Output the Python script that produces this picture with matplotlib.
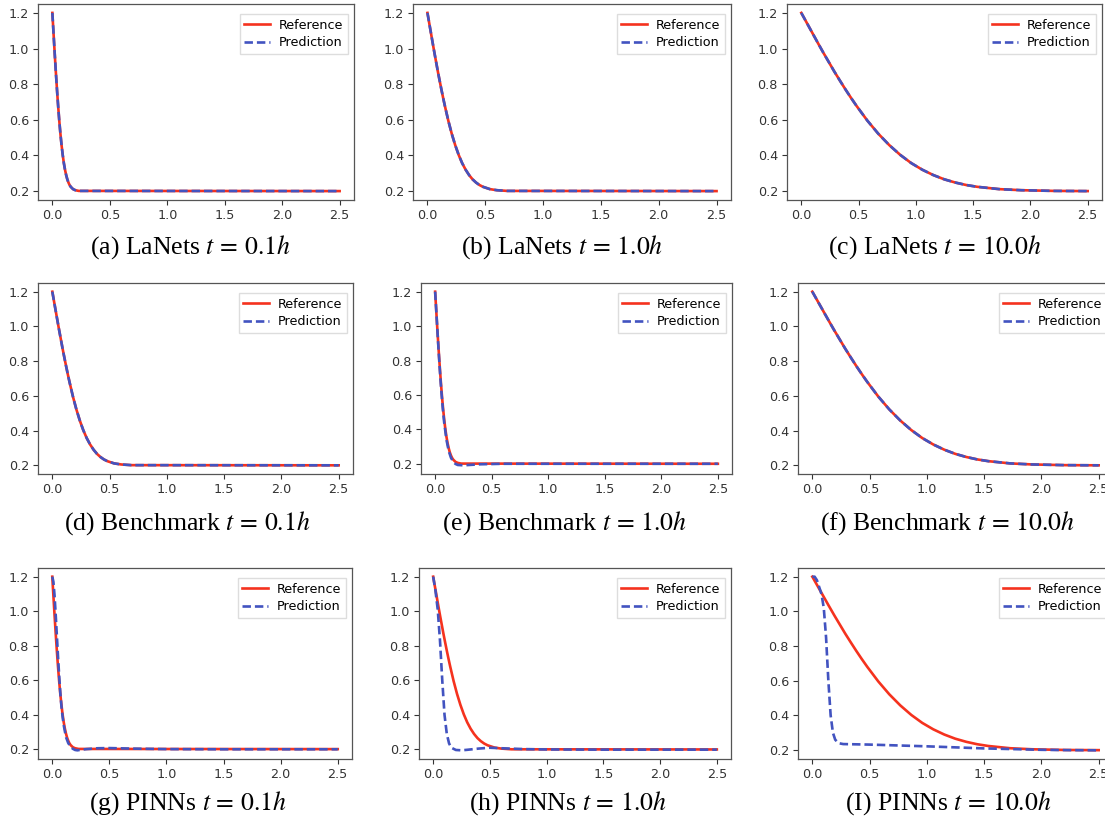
import matplotlib
matplotlib.use("Agg")
import matplotlib.pyplot as plt

plt.rcParams['mathtext.fontset'] = 'stix'

# ---------------- data ----------------
# shared decay shape 1.2 -> 0.2
y_prof = [1.2, 1.144, 1.088, 1.032, 0.977, 0.924, 0.871, 0.821, 0.772, 0.725, 0.680, 0.596, 0.522,
          0.458, 0.403, 0.357, 0.320, 0.290, 0.266, 0.248, 0.234, 0.224, 0.211, 0.205, 0.201, 0.200]
# fast profile (t = 0.1h LaNets, 1.0h Benchmark, 0.1h PINNs)
x_fast = [0, 0.005, 0.01, 0.015, 0.02, 0.025, 0.03, 0.035, 0.04, 0.045, 0.05, 0.06, 0.07, 0.08,
          0.09, 0.10, 0.11, 0.12, 0.13, 0.14, 0.15, 0.16, 0.18, 0.20, 0.23, 2.5]
# medium profile (t = 1.0h LaNets, 0.1h Benchmark, 1.0h PINNs)
x_mid = [0, 0.015, 0.03, 0.045, 0.06, 0.075, 0.09, 0.105, 0.12, 0.135, 0.15, 0.18, 0.21, 0.24,
         0.27, 0.30, 0.33, 0.36, 0.39, 0.42, 0.45, 0.48, 0.54, 0.60, 0.69, 2.5]
# slow profile (t = 10.0h)
x_slow = [0, 0.048, 0.096, 0.144, 0.192, 0.24, 0.288, 0.336, 0.384, 0.432, 0.48, 0.576, 0.672, 0.768,
          0.864, 0.96, 1.056, 1.152, 1.248, 1.344, 1.44, 1.536, 1.728, 1.92, 2.208, 2.5]

# Benchmark t=1.0h prediction (slight undershoot)
x_e_pred = [0, 0.01, 0.02, 0.03, 0.04, 0.05, 0.06, 0.07, 0.08, 0.10, 0.12, 0.14, 0.16, 0.18, 0.20, 0.25, 0.30, 0.40, 0.60, 2.5]
y_e_pred = [1.2, 1.09, 0.975, 0.865, 0.76, 0.665, 0.58, 0.505, 0.44, 0.34, 0.275, 0.235, 0.212, 0.199, 0.193, 0.191, 0.193, 0.197, 0.2, 0.2]

# PINNs t=0.1h prediction
x_g_pred = [0, 0.01, 0.02, 0.03, 0.04, 0.05, 0.06, 0.07, 0.08, 0.09, 0.10, 0.12, 0.14, 0.16, 0.18, 0.20, 0.22, 0.25, 0.30, 0.40, 0.50, 0.70, 1.0, 1.5, 2.5]
y_g_pred = [1.2, 1.17, 1.09, 0.98, 0.86, 0.74, 0.63, 0.53, 0.45, 0.39, 0.34, 0.27, 0.235, 0.215, 0.202, 0.195, 0.193, 0.196, 0.2, 0.205, 0.206, 0.203, 0.2, 0.199, 0.199]

# PINNs t=1.0h prediction
x_h_pred = [0, 0.02, 0.04, 0.06, 0.08, 0.10, 0.12, 0.14, 0.16, 0.20, 0.25, 0.30, 0.40, 0.50, 0.60, 0.80, 1.0, 1.5, 2.0, 2.5]
y_h_pred = [1.2, 1.12, 1.01, 0.83, 0.60, 0.40, 0.29, 0.235, 0.21, 0.197, 0.195, 0.198, 0.205, 0.21, 0.207, 0.202, 0.2, 0.199, 0.199, 0.199]

# PINNs t=10.0h prediction
x_i_pred = [0, 0.02, 0.04, 0.06, 0.08, 0.10, 0.12, 0.14, 0.16, 0.18, 0.20, 0.23, 0.27, 0.35, 0.5, 0.75, 1.0, 1.25, 1.5, 1.75, 2.0, 2.25, 2.5]
y_i_pred = [1.2, 1.2, 1.18, 1.14, 1.1, 1.02, 0.85, 0.6, 0.4, 0.3, 0.26, 0.24, 0.235, 0.234, 0.232, 0.227, 0.222, 0.216, 0.21, 0.206, 0.202, 0.2, 0.199]

captions = [r"(a) LaNets $t\,=\,0.1h$", r"(b) LaNets $t\,=\,1.0h$", r"(c) LaNets $t\,=\,10.0h$",
            r"(d) Benchmark $t\,=\,0.1h$", r"(e) Benchmark $t\,=\,1.0h$", r"(f) Benchmark $t\,=\,10.0h$",
            r"(g) PINNs $t\,=\,0.1h$", r"(h) PINNs $t\,=\,1.0h$", r"(I) PINNs $t\,=\,10.0h$"]

panels = [
    (x_fast, y_prof, x_fast, y_prof),
    (x_mid, y_prof, x_mid, y_prof),
    (x_slow, y_prof, x_slow, y_prof),
    (x_mid, y_prof, x_mid, y_prof),
    (x_fast, y_prof, x_e_pred, y_e_pred),
    (x_slow, y_prof, x_slow, y_prof),
    (x_fast, y_prof, x_g_pred, y_g_pred),
    (x_mid, y_prof, x_h_pred, y_h_pred),
    (x_slow, y_prof, x_i_pred, y_i_pred),
]

xticks = [0.0, 0.5, 1.0, 1.5, 2.0, 2.5]
yticks = [0.2, 0.4, 0.6, 0.8, 1.0, 1.2]

# ---------------- layout (pixels) ----------------
W, H = 1105, 825
boxes = [  # left, right, top, bottom
    (38, 354, 4, 200), (413, 731, 4, 200), (787, 1102, 4, 200),
    (38, 353, 283, 474), (421, 732, 283, 474), (798, 1113, 283, 474),
    (38, 352, 568, 759), (419, 731, 568, 759), (798, 1113, 568, 759),
]
cap_pos = [(190, 247), (562, 247), (935, 247),
           (187, 523), (565, 523), (948, 523),
           (188, 803), (568, 803), (948, 803)]

fig = plt.figure(figsize=(W / 100, H / 100), dpi=100)

red = '#f5321e'
blue = '#4253c0'
tick_fs = 9.2

for i, (xr, yr, xp, yp) in enumerate(panels):
    l, r, t, b = boxes[i]
    ax = fig.add_axes([l / W, 1 - b / H, (r - l) / W, (b - t) / H])
    ax.plot(xr, yr, color=red, lw=1.9, label='Reference')
    ax.plot(xp, yp, color=blue, lw=1.9, ls='--', dashes=(3.2, 1.5), label='Prediction')
    ax.set_xticks(xticks)
    ax.set_yticks(yticks)
    ax.set_xticklabels([f"{v:.1f}" for v in xticks])
    ax.set_yticklabels([f"{v:.1f}" for v in yticks])
    ax.tick_params(labelsize=tick_fs, colors='#333333', length=3.5, width=0.8, pad=3)
    for s in ax.spines.values():
        s.set_color('#555555')
        s.set_linewidth(0.9)
    ax.legend(loc='upper right', bbox_to_anchor=(1.0, 1.0 - 4.0 / (b - t)),
              fontsize=tick_fs, frameon=True, fancybox=False,
              edgecolor='#dddddd', framealpha=1.0, handlelength=2.0,
              borderpad=0.35, labelspacing=0.35, handletextpad=0.7)
    cx, cy = cap_pos[i]
    fig.text(cx / W, 1 - cy / H, captions[i], ha='center', va='center',
             fontsize=18.5, family='Liberation Serif')

fig.savefig('out.png', dpi=100)
